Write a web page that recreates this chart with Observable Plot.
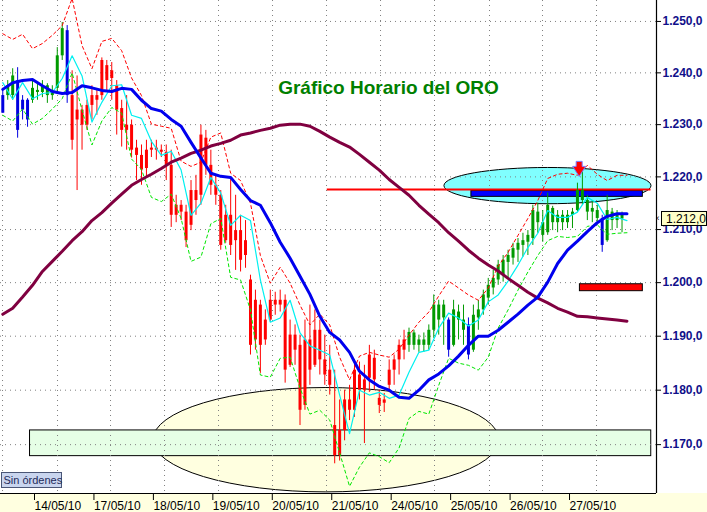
<!DOCTYPE html>
<html><head><meta charset="utf-8">
<script src="https://cdn.jsdelivr.net/npm/d3@7"></script>
<script src="https://cdn.jsdelivr.net/npm/@observablehq/plot@0.6"></script>
<style>html,body{margin:0;padding:0;background:#fff;}#chart{width:707px;height:512px;}</style>
</head><body><div id="chart"></div>
<script>
// ---- Data (hourly gold chart, 13/05/10 – 27/05/10), hours counted from the 14/05/10 session start ----
const titleText = "Gráfico Horario del ORO";
const statusText = "Sin órdenes";
const dayHours = [0, 24, 48, 72, 96, 120, 144, 168, 192, 216];
const dayLabels = ["14/05/10","17/05/10","18/05/10","19/05/10","20/05/10","21/05/10","24/05/10","25/05/10","26/05/10","27/05/10"];
const priceTicks = [1170, 1180, 1190, 1200, 1210, 1220, 1230, 1240, 1250];
const gridHours = [-12.1, 10.1, 31.5, 53.3, 75.1, 96.9, 118.7, 140.5, 162.3, 184.5, 205.9, 227.7];

// 2-hour bars
const barHours = d3.range(-12, 240, 2);
const barOpen = [
 1235.6,1235.6,1235.6,1238.5,1232.8,1234.7,1234.7,1236.6,1236.2,1237.5,
 1235.6,1237.0,1243.3,1248.2,1235.6,1230.9,1232.8,1229.9,1233.7,1235.6,
 1235.6,1241.4,1238.9,1237.5,1233.1,1228.9,1229.9,1225.5,1224.1,1221.6,
 1225.1,1225.5,1225.1,1224.7,1222.2,1212.7,1214.6,1213.3,1210.8,1217.4,
 1216.5,1227.4,1222.2,1218.4,1216.5,1207.9,1212.7,1207.9,1209.8,1205.1,
 1200.5,1189.3,1195.8,1189.3,1193.0,1196.7,1195.8,1196.7,1184.6,1190.2,
 1188.3,1177.2,1189.3,1184.6,1191.1,1185.6,1183.7,1173.5,1168.0,1172.6,
 1178.2,1176.3,1182.8,1180.0,1182.2,1185.9,1178.5,1177.6,1180.9,1183.7,
 1185.6,1187.4,1188.3,1190.6,1188.3,1189.3,1188.3,1191.1,1195.8,1193.4,
 1193.0,1188.3,1194.5,1193.0,1192.1,1187.4,1193.4,1194.9,1197.1,1199.0,
 1200.5,1201.4,1203.8,1204.6,1206.1,1207.0,1207.6,1208.3,1213.3,1211.3,
 1209.4,1214.0,1211.3,1212.7,1211.3,1212.7,1213.6,1217.4,1215.5,1213.3,
 1213.6,1212.1,1207.9,1213.3,1211.7,1212.7];
const barHigh = [
 1237.0,1238.5,1240.8,1241.0,1235.6,1235.0,1238.5,1238.1,1238.5,1237.9,
 1237.5,1244.9,1249.8,1249.2,1240.4,1239.4,1233.7,1234.7,1237.5,1236.6,
 1242.9,1242.4,1242.0,1238.5,1234.7,1235.6,1230.9,1227.0,1226.1,1227.0,
 1227.0,1227.0,1226.1,1226.1,1225.1,1216.5,1215.5,1214.6,1219.3,1220.3,
 1229.9,1228.9,1225.1,1220.3,1217.4,1214.6,1219.7,1216.5,1212.7,1211.7,
 1201.4,1198.6,1196.7,1194.9,1198.6,1198.2,1198.6,1197.7,1193.0,1192.1,
 1190.2,1193.0,1195.8,1194.9,1193.0,1190.2,1188.3,1183.7,1178.2,1180.0,
 1180.9,1185.6,1185.2,1184.6,1188.3,1187.4,1180.0,1179.4,1185.6,1186.5,
 1189.3,1191.1,1191.5,1191.1,1190.2,1190.6,1192.1,1197.7,1196.7,1196.7,
 1193.4,1196.7,1195.8,1195.8,1193.4,1195.8,1196.7,1198.6,1200.8,1202.3,
 1204.2,1205.1,1206.1,1207.4,1208.3,1209.3,1209.8,1214.6,1215.0,1213.6,
 1216.9,1214.4,1213.6,1213.6,1213.6,1214.0,1218.8,1221.3,1216.5,1215.5,
 1214.6,1212.7,1216.5,1214.0,1213.6,1213.3];
const barLow = [
 1232.2,1234.7,1234.7,1227.4,1230.9,1229.5,1234.1,1234.7,1235.2,1234.1,
 1234.7,1236.2,1242.4,1234.1,1225.1,1217.4,1225.1,1228.9,1230.9,1231.8,
 1234.7,1236.6,1234.7,1228.0,1225.7,1225.1,1223.6,1219.3,1218.4,1219.7,
 1223.7,1223.2,1223.7,1219.3,1210.4,1211.3,1211.7,1206.6,1209.8,1212.7,
 1214.6,1220.3,1216.5,1214.6,1206.1,1207.4,1205.1,1202.3,1202.0,1202.7,
 1186.5,1187.4,1183.1,1188.3,1192.6,1193.9,1194.5,1181.3,1184.2,1184.6,
 1173.5,1176.3,1180.9,1184.2,1182.8,1180.9,1179.1,1166.5,1167.0,1170.7,
 1174.4,1175.0,1178.2,1170.2,1179.6,1180.0,1175.7,1175.9,1180.0,1180.9,
 1182.8,1185.6,1187.0,1187.4,1187.0,1187.0,1187.4,1189.6,1190.2,1188.3,
 1186.1,1188.0,1189.3,1188.3,1185.6,1187.0,1191.1,1193.9,1195.8,1197.7,
 1199.5,1200.1,1200.8,1203.3,1203.8,1204.8,1205.1,1207.0,1209.3,1207.6,
 1208.9,1209.8,1209.4,1209.8,1210.2,1210.2,1213.3,1214.6,1211.7,1211.3,
 1210.8,1205.7,1207.6,1209.8,1210.2,1209.4];
const barClose = [
 1232.2,1237.5,1239.4,1228.9,1234.7,1230.9,1237.0,1236.2,1237.5,1235.6,
 1236.6,1243.3,1248.6,1235.6,1227.0,1232.8,1229.9,1233.7,1235.6,1234.7,
 1242.4,1238.5,1240.4,1232.8,1228.9,1229.9,1225.1,1224.1,1221.3,1225.1,
 1225.5,1225.1,1224.7,1222.2,1212.7,1214.6,1213.3,1207.9,1217.4,1215.5,
 1228.0,1222.2,1218.4,1216.5,1207.0,1212.7,1207.0,1209.8,1204.2,1207.9,
 1188.3,1196.7,1188.3,1193.0,1196.7,1195.8,1196.7,1183.7,1190.2,1187.4,
 1176.3,1189.3,1183.7,1191.1,1185.6,1182.8,1180.9,1168.0,1172.6,1178.2,
 1176.3,1183.7,1180.0,1181.9,1186.5,1181.9,1177.2,1178.2,1183.7,1185.6,
 1188.3,1189.3,1190.7,1188.3,1189.3,1188.3,1191.1,1195.8,1193.0,1195.8,
 1187.4,1194.9,1193.0,1191.1,1186.5,1193.9,1194.9,1197.7,1199.5,1200.8,
 1203.3,1204.2,1205.1,1206.4,1207.4,1207.9,1208.9,1213.6,1211.3,1208.9,
 1214.6,1211.3,1212.7,1211.3,1212.7,1213.3,1217.4,1215.5,1213.3,1214.0,
 1212.1,1207.0,1213.6,1211.7,1212.7,1212.0];
// bar state: b = neutral, g = bullish, r = bearish
const barState = (
 "bggbbbgggggggb" +
 "rrrrrrrrrr" + "rrrrrrrrrr" + "rrrrrrrrrr" + "rrrrrrrrrr" + "rrrrrrrrrr" + "rrrrrrrrrr" + "rrrrrrrr" +
 "gggggggg" + "b" + "ggg" + "b" +
 "gggggggggg" + "gggggggggg" + "gggggg" + "b" + "gggg").split("");

// indicator lines, sampled every 4 hours
const lineHours = d3.range(-12, 241, 4);
const upperBand = [
 1247.6,1246.5,1247.5,1244.7,1245.7,1247.3,1249.2,1254.5,1245.3,1240.8,
 1246.1,1246.7,1244.3,1239.0,1235.6,1230.1,1229.7,1229.3,1223.0,1222.0,
 1222.8,1227.6,1228.4,1220.7,1219.3,1215.0,1205.1,1199.9,1202.9,1199.9,
 1195.8,1192.1,1194.1,1192.1,1186.1,1181.9,1186.3,1187.0,1186.5,1186.1,
 1187.6,1190.2,1192.6,1194.5,1197.5,1200.3,1199.0,1197.7,1196.7,1199.0,
 1203.1,1205.7,1208.9,1212.1,1215.5,1219.7,1220.5,1220.7,1220.3,1222.2,
 1220.5,1219.3,1220.3,1220.3];
const lowerBand = [
 1231.8,1230.7,1233.0,1230.1,1231.2,1233.0,1235.0,1240.0,1232.8,1226.1,
 1230.7,1233.3,1232.2,1223.4,1221.4,1216.1,1215.3,1216.7,1212.1,1204.0,
 1204.8,1211.1,1212.1,1201.0,1200.5,1194.9,1182.8,1182.4,1185.9,1186.1,
 1180.4,1175.6,1176.3,1174.5,1168.5,1162.4,1165.9,1168.5,1167.8,1166.7,
 1169.4,1174.8,1176.1,1175.6,1180.9,1185.9,1185.0,1184.6,1183.7,1186.1,
 1191.5,1194.9,1198.6,1202.0,1205.1,1207.9,1208.7,1208.5,1208.7,1210.6,
 1210.9,1209.1,1209.3,1209.4];
const fastMA = [
 1238.1,1234.9,1238.1,1235.0,1236.0,1236.2,1238.9,1243.3,1239.4,1230.5,
 1234.3,1237.5,1237.7,1231.8,1231.2,1226.8,1224.1,1224.9,1221.3,1212.7,
 1215.0,1219.9,1216.9,1210.8,1212.7,1211.7,1200.5,1192.6,1193.4,1196.7,
 1190.6,1188.2,1187.4,1186.5,1179.1,1172.0,1180.0,1179.1,1179.6,1178.5,
 1179.1,1183.3,1187.0,1187.4,1191.5,1194.3,1193.4,1191.9,1193.0,1196.4,
 1197.7,1200.3,1203.3,1206.6,1209.3,1213.6,1212.3,1212.3,1213.3,1216.1,
 1215.0,1211.9,1212.3,1211.7];
const midMA = [
 1236.8,1238.1,1238.5,1238.7,1237.5,1236.4,1236.0,1236.2,1237.5,1237.1,
 1236.6,1236.4,1237.0,1236.8,1234.7,1233.1,1232.6,1231.0,1229.7,1226.6,
 1223.6,1220.7,1220.1,1219.9,1217.6,1215.5,1214.6,1211.3,1207.6,1204.6,
 1201.2,1197.8,1193.7,1190.7,1189.3,1187.0,1183.5,1181.9,1180.7,1180.0,
 1178.7,1178.5,1180.0,1181.9,1183.0,1184.5,1186.3,1188.3,1190.0,1190.0,
 1191.1,1192.6,1194.1,1195.8,1197.3,1200.1,1203.6,1206.1,1207.8,1209.6,
 1211.3,1212.5,1213.0,1213.0];
const slowMA = [
 1194.1,1195.2,1197.3,1199.5,1202.1,1204.0,1205.9,1207.9,1209.6,1211.7,
 1213.2,1215.0,1216.7,1218.4,1219.5,1220.5,1221.6,1222.8,1223.6,1224.5,
 1225.1,1225.9,1226.4,1227.0,1228.0,1228.4,1228.9,1229.3,1229.9,1230.1,
 1230.1,1229.7,1228.7,1227.6,1226.6,1225.7,1224.3,1222.8,1221.3,1219.5,
 1218.0,1216.5,1214.6,1212.9,1211.3,1209.4,1207.8,1206.1,1204.6,1203.3,
 1202.2,1200.8,1199.5,1198.2,1197.1,1196.2,1195.2,1194.5,1193.7,1193.6,
 1193.4,1193.2,1193.0,1192.8];

// drawn annotations (hours / prices)
const supportZone = {h1: 48.8, h2: 188.5, p1: 1180.4, p2: 1161.3};
const supportBand = {h1: -1.0, h2: 249.8, p1: 1172.6, p2: 1167.9};
const resistanceZone = {h1: 166.3, h2: 249.9, p1: 1221.7, p2: 1214.8};
const resistanceLine = {h1: 119.0, h2: 249.7, p: 1217.6};
const resistanceBar = {h1: 177.2, h2: 246.4, p1: 1217.3, p2: 1216.2};
const targetBar = {h1: 221.0, h2: 246.4, p1: 1199.7, p2: 1198.4};
const sellSignal = {h: 220.9, p: 1220.0};

const xDomain = [-12.92, 251.92];
const yDomain = [1161.1, 1254.1];

// ---- build ----
const fmt = d3.formatLocale({decimal: ",", thousands: ".", grouping: [3], currency: ["", "€"]}).format(",.1f");
const stateColor = {r: "#FF0000", g: "#009A00", b: "#0000E0"};
const bars = barHours.map((h, i) => ({h, o: barOpen[i], hi: barHigh[i], lo: barLow[i], c: barClose[i], col: stateColor[barState[i]] || "#FF0000"}));
const series = vals => lineHours.map((h, i) => ({h, v: vals[i]})).filter(d => d.v != null);
const dayLabel = new Map(dayHours.map((h, i) => [h, dayLabels[i]]));
const lastClose = barClose[barClose.length - 1];

function ellipseMark(zone, fill) {
  return (index, scales) => {
    const x1 = scales.x(zone.h1), x2 = scales.x(zone.h2), y1 = scales.y(zone.p1), y2 = scales.y(zone.p2);
    return d3.create("svg:ellipse")
      .attr("cx", (x1 + x2) / 2).attr("cy", (y1 + y2) / 2)
      .attr("rx", Math.abs(x2 - x1) / 2).attr("ry", Math.abs(y2 - y1) / 2)
      .attr("fill", fill).attr("stroke", "#000").attr("stroke-width", 1).node();
  };
}
const arrowMark = (index, scales) => {
  const cx = scales.x(sellSignal.h), ty = scales.y(sellSignal.p);
  return d3.create("svg:path")
    .attr("d", `M${cx-3},${ty-15}L${cx+3},${ty-15}L${cx+3},${ty-10}L${cx+6.5},${ty-10}L${cx},${ty}L${cx-6.5},${ty-10}L${cx-3},${ty-10}Z`)
    .attr("fill", "#FF0000").attr("stroke", "#7A7AFF").attr("stroke-width", 1).node();
};
const statusMark = (index, scales, values, dims) => {
  const yb = dims.height - dims.marginBottom;
  const g = d3.create("svg:g").attr("text-anchor", "start");
  g.append("rect").attr("x", 1.5).attr("y", yb - 20.5).attr("width", 60).attr("height", 15)
    .attr("fill", "#C9D5EE").attr("stroke", "#4A5676");
  g.append("text").attr("x", 3.5).attr("y", yb - 9.3).style("font-size", "11px").attr("fill", "#1E2A5A").attr("text-anchor", "start").text(statusText);
  return g.node();
};
const priceLabelMark = (index, scales, values, dims) => {
  const yy = scales.y(lastClose), xr = dims.width - dims.marginRight;
  const g = d3.create("svg:g").attr("text-anchor", "start");
  g.append("rect").attr("x", xr + 5.5).attr("y", yy - 7).attr("width", 45).attr("height", 14)
    .attr("fill", "#FFFFC8").attr("stroke", "#000");
  g.append("text").attr("x", xr + 10).attr("y", yy).attr("dy", "0.36em").style("font-size", "12px").attr("fill", "#000").attr("text-anchor", "start").text(fmt(lastClose));
  g.append("text").attr("x", xr + 0.5).attr("y", yy).attr("dy", "0.33em").style("font-size", "9px").attr("fill", "#000").attr("text-anchor", "start").text("‹");
  return g.node();
};

const chart = Plot.plot({
  width: 707, height: 512,
  marginLeft: 0, marginRight: 51, marginTop: 0, marginBottom: 19,
  x: {type: "linear", domain: xDomain, label: null},
  y: {type: "log", domain: yDomain, label: null},
  color: {type: "identity"},
  style: "background: linear-gradient(to bottom, #ffffff 0px, #ffffff 493px, #FFFFE0 493px, #FFFFE0 512px); font-family: 'Liberation Sans', Arial, sans-serif; overflow: visible;",
  marks: [
    ellipseMark(supportZone, "#FFFFE0"),
    Plot.rect([supportBand], {x1: "h1", x2: "h2", y1: "p1", y2: "p2", fill: "#E6FFE6", stroke: "#000", strokeWidth: 1}),
    ellipseMark(resistanceZone, "#80FFFF"),
    Plot.gridX(gridHours, {stroke: "#808080", strokeOpacity: 1, strokeDasharray: "1,4"}),
    Plot.gridY(priceTicks, {stroke: "#808080", strokeOpacity: 1, strokeDasharray: "1,4"}),
    Plot.rect([resistanceBar], {x1: "h1", x2: "h2", y1: "p1", y2: "p2", fill: "#0000FF", stroke: "#000", strokeWidth: 1}),
    Plot.ruleY([resistanceLine], {y: "p", x1: "h1", x2: "h2", stroke: "#FF0000", strokeWidth: 2.2}),
    Plot.ruleX(bars, {x: "h", y1: "lo", y2: "hi", stroke: "col", strokeWidth: 1}),
    Plot.ruleX(bars, {x: "h", y1: "o", y2: "c", stroke: "col", strokeWidth: 3}),
    Plot.line(series(upperBand), {x: "h", y: "v", stroke: "#FF0000", strokeWidth: 1, strokeDasharray: "3,3", clip: true}),
    Plot.line(series(lowerBand), {x: "h", y: "v", stroke: "#00E600", strokeWidth: 1, strokeDasharray: "3,3", clip: true}),
    Plot.line(series(fastMA), {x: "h", y: "v", stroke: "#00F0F0", strokeWidth: 1.2, clip: true}),
    Plot.line(series(slowMA), {x: "h", y: "v", stroke: "#800040", strokeWidth: 3, clip: true}),
    Plot.line(series(midMA), {x: "h", y: "v", stroke: "#0000EE", strokeWidth: 3, clip: true}),
    Plot.rect([targetBar], {x1: "h1", x2: "h2", y1: "p1", y2: "p2", fill: "#FF0000", stroke: "#000", strokeWidth: 1}),
    arrowMark,
    Plot.ruleX([xDomain[1]], {stroke: "#000", strokeWidth: 1.2}),
    Plot.ruleY([yDomain[0]], {stroke: "#000", strokeWidth: 1.2}),
    Plot.axisY(priceTicks, {anchor: "right", tickSize: 4, tickPadding: 2, tickFormat: fmt, fill: "#10108A", stroke: "#000", fontSize: 12, fontWeight: "bold", label: null}),
    Plot.axisX(dayHours, {anchor: "bottom", tickSize: 7, tickPadding: 1, tickFormat: d => dayLabel.get(d), textAnchor: "start", dx: 2, fontSize: 12, fill: "#000", stroke: "#000", label: null}),
    Plot.text([titleText], {frameAnchor: "top", dx: 60, dy: 80, fill: "#008000", fontWeight: "bold", fontSize: 19}),
    statusMark,
    priceLabelMark
  ]
});
document.getElementById("chart").appendChild(chart);
</script>
</body></html>
